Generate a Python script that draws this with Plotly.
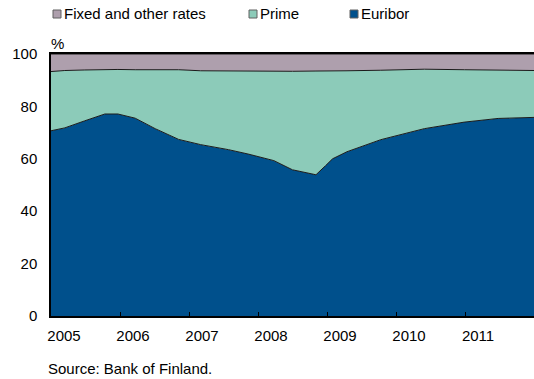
import plotly.graph_objects as go

# Share of new housing loans by reference rate, % (decimal years)
t = [2005.00, 2005.20, 2005.49, 2005.78, 2005.97, 2006.22, 2006.51, 2006.85,
     2007.17, 2007.57, 2007.86, 2008.23, 2008.50, 2008.84, 2008.98, 2009.08,
     2009.29, 2009.78, 2010.41, 2010.99, 2011.48, 2012.00]
euribor = [70.7, 71.8, 74.5, 77.1, 77.1, 75.5, 71.5, 67.4,
           65.4, 63.5, 61.8, 59.3, 55.8, 53.9, 57.4, 60.0,
           62.7, 67.3, 71.5, 74.0, 75.4, 75.8]
prime = [22.6, 21.9, 19.4, 17.0, 17.0, 18.5, 22.5, 26.6,
         28.2, 30.0, 31.6, 34.1, 37.6, 39.6, 36.1, 33.5,
         30.9, 26.5, 22.7, 20.0, 18.4, 17.9]
fixed = [6.7, 6.3, 6.1, 5.9, 5.9, 6.0, 6.0, 6.0,
         6.4, 6.5, 6.6, 6.6, 6.6, 6.5, 6.5, 6.5,
         6.4, 6.2, 5.8, 6.0, 6.2, 6.3]

years = [2005, 2006, 2007, 2008, 2009, 2010, 2011]
y_ticks = [0, 20, 40, 60, 80, 100]

series = [
    ("Euribor", euribor, "#00508C"),
    ("Prime", prime, "#8CCBB9"),
    ("Fixed and other rates", fixed, "#AE9FAD"),
]

FONT = "Liberation Sans, Arial, sans-serif"
FS = 15

fig = go.Figure()
for name, vals, col in series:
    fig.add_trace(go.Scatter(
        x=t, y=vals, name=name, stackgroup="one", mode="lines",
        line=dict(color="#1a1a1a", width=1), fillcolor=col,
        showlegend=False, hoverinfo="skip",
    ))

# Legend keys: small outlined squares followed by labels
legend_items = [
    ("Fixed and other rates", "#AE9FAD", 53),
    ("Prime", "#8CCBB9", 249),
    ("Euribor", "#00508C", 350),
]
W, H = 534, 379
for label, col, px in legend_items:
    fig.add_shape(type="rect", xref="paper", yref="paper",
                  x0=(px - 51) / 483, x1=(px + 8 - 51) / 483,
                  y0=(316 - 18) / 262, y1=(316 - 10) / 262,
                  fillcolor=col, line=dict(color="#606060", width=1))
    fig.add_annotation(text=label, xref="paper", yref="paper",
                       x=(px + 9 - 51) / 483, y=(316 - 14) / 262,
                       xanchor="left", yanchor="middle", showarrow=False,
                       font=dict(size=FS, color="#000000", family=FONT))

fig.add_annotation(text="%", xref="paper", yref="paper",
                   x=(49 - 51) / 483, y=(316 - 43) / 262,
                   xanchor="left", yanchor="middle", showarrow=False,
                   font=dict(size=FS, color="#000000", family=FONT))
fig.add_annotation(text="Source: Bank of Finland.", xref="paper", yref="paper",
                   x=(46 - 51) / 483, y=(316 - 368) / 262,
                   xanchor="left", yanchor="middle", showarrow=False,
                   font=dict(size=FS, color="#000000", family=FONT))

fig.update_xaxes(
    range=[2005, 2012.0], tickvals=years, ticktext=[str(y) for y in years],
    ticks="inside", ticklen=4, tickcolor="#000000", tickwidth=1,
    ticklabelshift=13, ticklabelstandoff=5,
    showline=True, linecolor="#000000", linewidth=1.5, mirror=True,
    showgrid=False, zeroline=False,
    tickfont=dict(size=FS, color="#000000", family=FONT),
)
fig.update_yaxes(
    range=[0, 100], tickvals=y_ticks, ticks="", ticklabelstandoff=9,
    showline=True, linecolor="#000000", linewidth=1.5,
    showgrid=False, zeroline=False,
    tickfont=dict(size=FS, color="#000000", family=FONT),
)
fig.update_layout(
    width=W, height=H, margin=dict(l=51, r=0, t=54, b=63),
    paper_bgcolor="#ffffff", plot_bgcolor="#ffffff",
    showlegend=False,
)

fig.write_html("out.html")
